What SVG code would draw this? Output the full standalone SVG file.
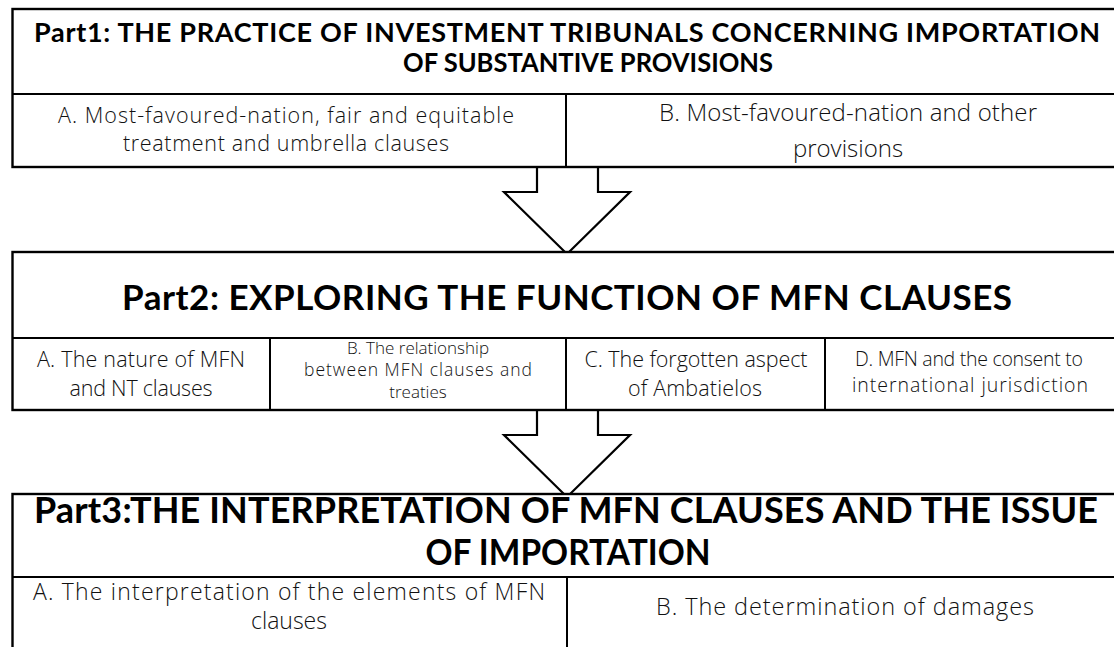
<svg xmlns="http://www.w3.org/2000/svg" width="1114" height="647" viewBox="0 0 1114 647">
<style>
.box{fill:#fff;stroke:#000;stroke-width:2.4}
.ln{stroke:#000;stroke-width:2}
.arrow{fill:#fff;stroke:#000;stroke-width:2.2;stroke-linejoin:miter}
.t{font-family:Lato,"Open Sans","Liberation Sans",sans-serif;font-weight:700;fill:#000;text-anchor:middle}
.s{font-family:"Open Sans","Noto Sans","Liberation Sans",sans-serif;font-weight:300;fill:#111;text-anchor:middle}
</style>
<rect width="1114" height="647" fill="#fff"/>
<g id="connectors">
<path class="arrow" d="M537,166 L537,192 L504,192 L567,254 L630,192 L598,192 L598,166"/>
<path class="arrow" d="M537,409 L537,435 L504,435 L567,497 L630,435 L598,435 L598,409"/>
</g>
<g id="part1">
<rect class="box" x="12.5" y="9" width="1130" height="158"/>
<line class="ln" x1="12" y1="94" x2="1114" y2="94"/>
<line class="ln" x1="566" y1="94" x2="566" y2="167"/>
<text class="t" x="567" y="42" font-size="27" textLength="1066" lengthAdjust="spacing">Part1: THE PRACTICE OF INVESTMENT TRIBUNALS CONCERNING IMPORTATION</text>
<text class="t" x="588" y="72" font-size="27" textLength="370" lengthAdjust="spacingAndGlyphs">OF SUBSTANTIVE PROVISIONS</text>
</g>
<g id="part1-a">
<text class="s" x="286" y="123" font-size="21.5" textLength="456" lengthAdjust="spacing">A. Most-favoured-nation, fair and equitable</text>
<text class="s" x="286" y="151" font-size="21.5" textLength="326" lengthAdjust="spacing">treatment and umbrella clauses</text>
</g>
<g id="part1-b">
<text class="s" x="848" y="121" font-size="24" textLength="378" lengthAdjust="spacing">B. Most-favoured-nation and other</text>
<text class="s" x="848" y="157" font-size="24">provisions</text>
</g>
<g id="part2">
<rect class="box" x="12.5" y="252" width="1130" height="158"/>
<line class="ln" x1="12" y1="338" x2="1114" y2="338"/>
<line class="ln" x1="270" y1="338" x2="270" y2="410"/>
<line class="ln" x1="566" y1="338" x2="566" y2="410"/>
<line class="ln" x1="825" y1="338" x2="825" y2="410"/>
<text class="t" x="567" y="310" font-size="35" textLength="890" lengthAdjust="spacing">Part2: EXPLORING THE FUNCTION OF MFN CLAUSES</text>
</g>
<g id="part2-a">
<text class="s" x="141" y="367" font-size="21.5" textLength="208" lengthAdjust="spacing">A. The nature of MFN</text>
<text class="s" x="141" y="396" font-size="21.5" textLength="143" lengthAdjust="spacing">and NT clauses</text>
</g>
<g id="part2-b">
<text class="s" x="418" y="354" font-size="17">B. The relationship</text>
<text class="s" x="418" y="376" font-size="17.5" textLength="228" lengthAdjust="spacing">between MFN clauses and</text>
<text class="s" x="418" y="398" font-size="17">treaties</text>
</g>
<g id="part2-c">
<text class="s" x="696" y="367" font-size="21.5" textLength="223" lengthAdjust="spacing">C. The forgotten aspect</text>
<text class="s" x="695" y="396" font-size="21.5" textLength="134" lengthAdjust="spacing">of Ambatielos</text>
</g>
<g id="part2-d">
<text class="s" x="969" y="366" font-size="19.5" textLength="228" lengthAdjust="spacing">D. MFN and the consent to</text>
<text class="s" x="970" y="392" font-size="19.5" textLength="236" lengthAdjust="spacing">international jurisdiction</text>
</g>
<g id="part3">
<rect class="box" x="12.5" y="494" width="1130" height="200"/>
<line class="ln" x1="12" y1="577" x2="1114" y2="577"/>
<line class="ln" x1="567" y1="577" x2="567" y2="660"/>
<text class="t" x="566" y="523" font-size="36" textLength="1064" lengthAdjust="spacing">Part3:THE INTERPRETATION OF MFN CLAUSES AND THE ISSUE</text>
<text class="t" x="568" y="565" font-size="36" textLength="285" lengthAdjust="spacingAndGlyphs">OF IMPORTATION</text>
</g>
<g id="part3-a">
<text class="s" x="289" y="600" font-size="23" textLength="512" lengthAdjust="spacing">A. The interpretation of the elements of MFN</text>
<text class="s" x="289" y="629" font-size="23">clauses</text>
</g>
<g id="part3-b">
<text class="s" x="845" y="615" font-size="23.5" textLength="378" lengthAdjust="spacing">B. The determination of damages</text>
</g>
</svg>
